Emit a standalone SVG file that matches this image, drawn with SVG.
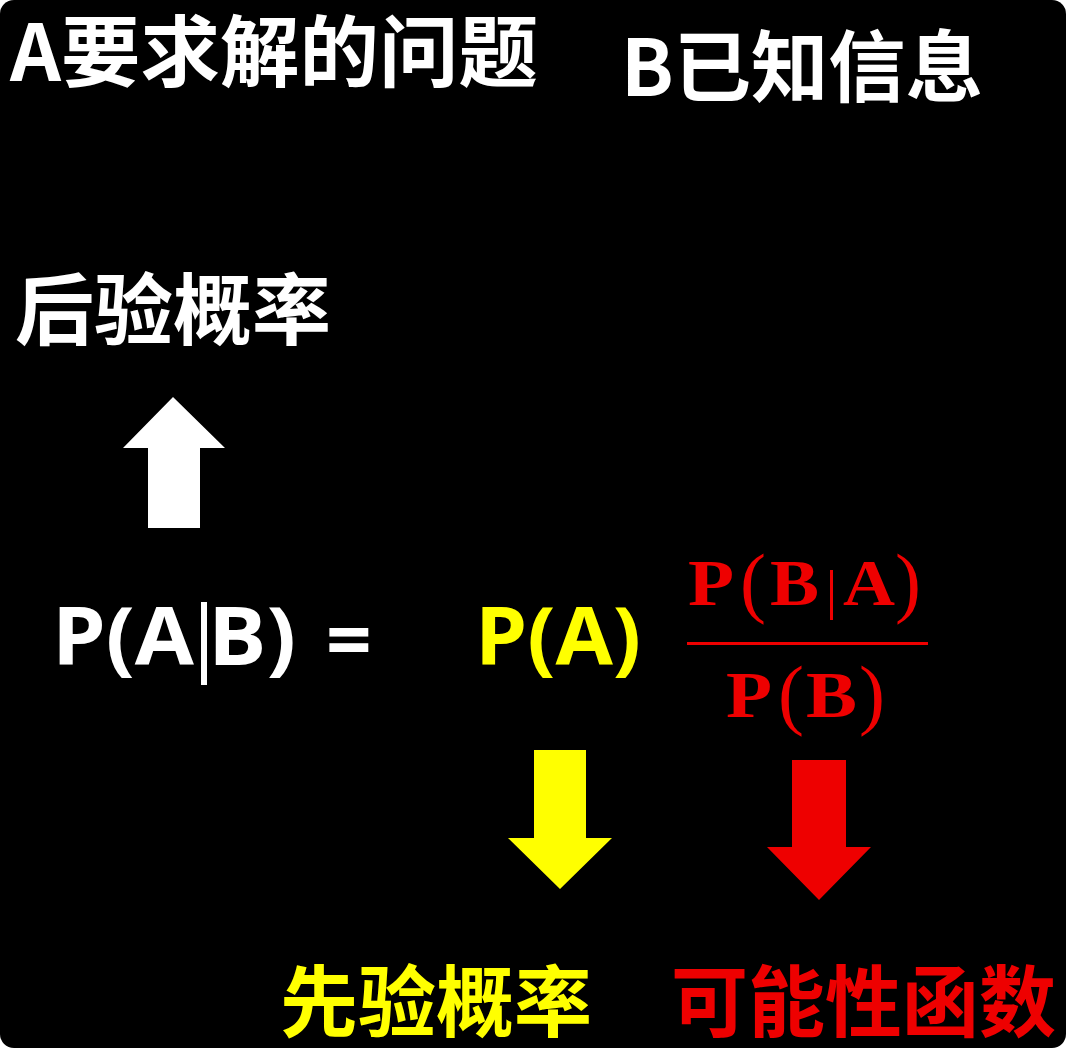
<svg xmlns="http://www.w3.org/2000/svg" width="1066" height="1048" viewBox="0 0 1066 1048">
<style>
.cjk{font-family:"Noto Sans CJK SC","Noto Sans",sans-serif;font-weight:700;font-size:78px}
.f{font-family:"Open Sans","Liberation Sans",sans-serif;font-weight:700;font-size:80px}
.s{font-family:"Liberation Serif","DejaVu Serif",serif;font-weight:700;font-size:66px;fill:#EE0000}
.p{font-family:"Liberation Serif","DejaVu Serif",serif;font-weight:400;font-size:78px;fill:#EE0000}
.w{fill:#FFFFFF}.y{fill:#FFFF00}.r{fill:#EE0000}
</style>
<rect x="0" y="0" width="1066" height="1048" fill="#FFFFFF"/>
<rect x="0" y="0" width="1066" height="1048" rx="14" ry="14" fill="#000000"/>
<g id="title-a"><text class="cjk w" x="10" y="81" textLength="528" lengthAdjust="spacingAndGlyphs">A要求解的问题</text></g>
<g id="title-b"><text class="cjk w" x="621" y="96" textLength="362" lengthAdjust="spacingAndGlyphs">B已知信息</text></g>
<g id="posterior"><text class="cjk w" x="15" y="339" textLength="316" lengthAdjust="spacingAndGlyphs">后验概率</text></g>
<g id="lhs">
<text class="f w" x="52" y="665" textLength="142" lengthAdjust="spacingAndGlyphs">P(A</text>
<rect x="201" y="602" width="6" height="83" fill="#FFFFFF"/>
<text class="f w" x="208" y="665" textLength="88" lengthAdjust="spacingAndGlyphs">B)</text>
</g>
<g id="equals"><text class="f w" x="326" y="669">=</text></g>
<g id="prior-term"><text class="f y" x="475" y="665" textLength="166" lengthAdjust="spacingAndGlyphs">P(A)</text></g>
<g id="fraction">
<text class="s" x="688" y="605" textLength="46" lengthAdjust="spacingAndGlyphs">P</text>
<text class="p" x="740" y="608">(</text>
<text class="s" x="770" y="605" textLength="49" lengthAdjust="spacingAndGlyphs">B</text>
<rect x="830" y="570" width="3" height="50" fill="#EE0000"/>
<text class="s" x="843" y="605" textLength="52" lengthAdjust="spacingAndGlyphs">A</text>
<text class="p" x="895" y="608">)</text>
<rect x="687" y="642" width="241" height="3" fill="#EE0000"/>
<text class="s" x="726" y="717" textLength="46" lengthAdjust="spacingAndGlyphs">P</text>
<text class="p" x="778" y="720">(</text>
<text class="s" x="806" y="717" textLength="51" lengthAdjust="spacingAndGlyphs">B</text>
<text class="p" x="859" y="720">)</text>
</g>
<g id="prior"><text class="cjk y" x="280" y="1031" textLength="312" lengthAdjust="spacingAndGlyphs">先验概率</text></g>
<g id="likelihood"><text class="cjk r" x="671" y="1031" textLength="385" lengthAdjust="spacingAndGlyphs">可能性函数</text></g>
<g id="connectors">
<polygon class="w" points="148,528 200,528 200,448 225,448 173,397 123,448 148,448"/>
<polygon class="y" points="534,750 586,750 586,838 612,838 560,889 508,838 534,838"/>
<polygon class="r" points="792,760 846,760 846,847 871,847 819,900 767,847 792,847"/>
</g>
</svg>
